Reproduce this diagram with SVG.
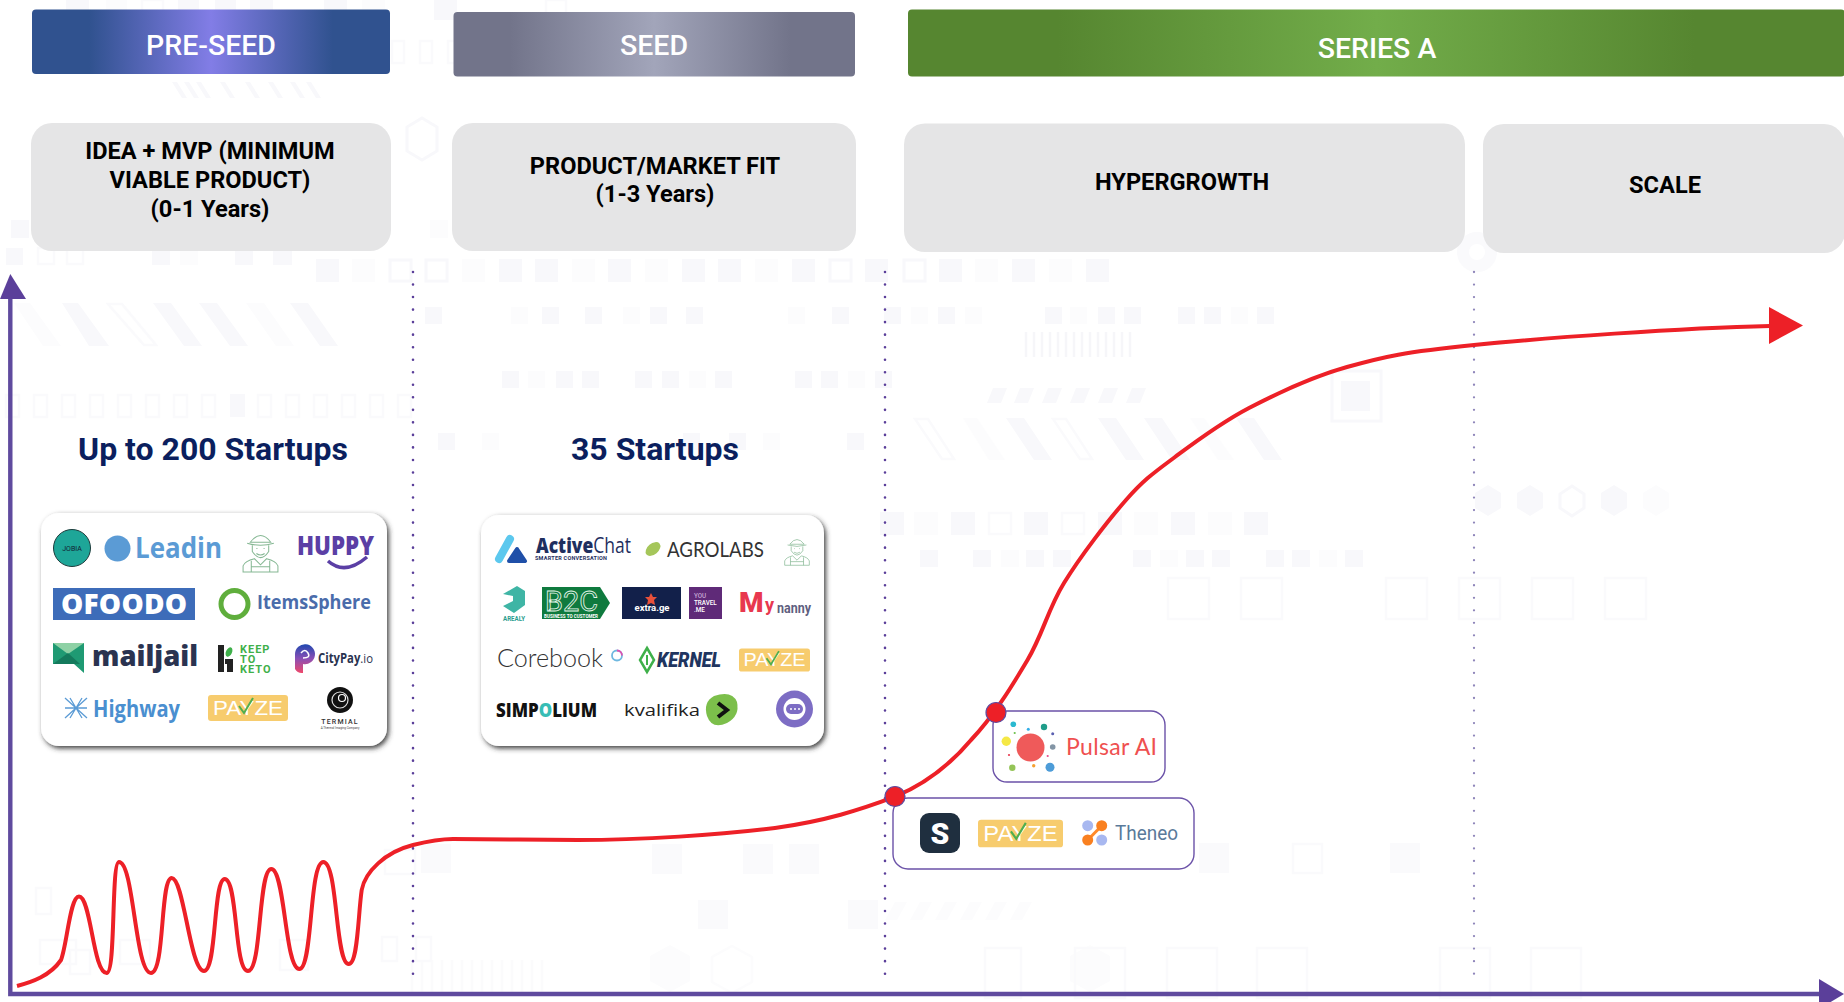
<svg xmlns="http://www.w3.org/2000/svg" width="1844" height="1002" viewBox="0 0 1844 1002">
<style>
text{font-family:Roboto,"Liberation Sans",sans-serif}
.b{fill:#f8f8fb}.l{fill:#fcfcfd}.f{fill:#fafafc}.o{fill:none;stroke:#f8f8fb;stroke-width:3}.o2{fill:none;stroke:#fafafc;stroke-width:2.5}
.hd{fill:#fff;font-size:28.5px;font-weight:500;text-anchor:middle}
.st{fill:#e5e5e6}
.stt{fill:#000;font-size:23.6px;font-weight:700;text-anchor:middle}
.big{fill:#0b1f5e;font-size:32px;font-weight:700;text-anchor:middle}
.card{fill:#fff;filter:url(#sh)}
.box{fill:#fff;stroke:#6b52a8;stroke-width:1.4}
.dot{fill:none;stroke:#5b3f9a;stroke-width:2.6;stroke-linecap:round;stroke-dasharray:0 12.53}
.axis{stroke:#5f4a9e;stroke-width:4.4;fill:none}
.ah{fill:#5b3f9a}
.pt{fill:#ed2027;stroke:#5f4a9e;stroke-width:1.2}
.lg{font-family:"Open Sans","Liberation Sans",sans-serif;font-weight:700}
.lat{font-family:Lato,"Liberation Sans",sans-serif}
</style>
<defs>
<filter id="sh" x="-5%" y="-5%" width="110%" height="112%"><feDropShadow dx="2" dy="2.5" stdDeviation="2.5" flood-color="#333" flood-opacity=".9"/></filter>
<linearGradient id="gp"><stop offset="0" stop-color="#30528f"/><stop offset=".16" stop-color="#30528f"/><stop offset=".5" stop-color="#827de6"/><stop offset=".84" stop-color="#30528f"/><stop offset="1" stop-color="#30528f"/></linearGradient>
<linearGradient id="gs"><stop offset="0" stop-color="#72748a"/><stop offset=".14" stop-color="#72748a"/><stop offset=".5" stop-color="#a2a5ba"/><stop offset=".84" stop-color="#72748a"/><stop offset="1" stop-color="#72748a"/></linearGradient>
<linearGradient id="gg"><stop offset="0" stop-color="#568630"/><stop offset=".16" stop-color="#568630"/><stop offset=".5" stop-color="#72ad4a"/><stop offset=".84" stop-color="#568630"/><stop offset="1" stop-color="#568630"/></linearGradient>
<linearGradient id="gc" x1="0" y1="0" x2="0" y2="1"><stop offset="0" stop-color="#1f48b0"/><stop offset=".5" stop-color="#8a4fb5"/><stop offset="1" stop-color="#f0486a"/></linearGradient>
<symbol id="payze" viewBox="0 0 80 26">
<rect width="80" height="26" rx="3" fill="#f7cc6e"/>
<text x="40" y="20" font-size="21" fill="#fff" text-anchor="middle" textLength="70" lengthAdjust="spacingAndGlyphs" style="font-family:'Liberation Sans',sans-serif">PAYZE</text>
<path d="M31,11 L36,18 L45,3" fill="none" stroke="#4fae4f" stroke-width="2"/>
</symbol>
<symbol id="farmer" viewBox="0 0 40 40">
<g fill="none" stroke="#86b894" stroke-width="1">
<path d="M10,10 Q20,-3 30,10 Z"/><path d="M7,11 Q20,15 33,11"/><path d="M12,13 V19 Q20,31 28,19 V13"/><path d="M16,21 Q20,24 24,21"/><path d="M16,16h1M23,16h1"/>
<path d="M3,39 V33 Q5,28 14,26 L20,32 L26,26 Q35,28 37,33 V39 Z"/><path d="M11,28 V39 M29,28 V39 M11,34 H29"/>
</g>
</symbol>
</defs>
<rect width="1844" height="1002" fill="#fff"/>
<g id="background">
<rect class="b" x="66" y="0" width="23" height="20"/><rect class="l" x="106" y="0" width="21" height="20"/><rect class="o2" x="142" y="0" width="21" height="19"/><rect class="b" x="178" y="0" width="21" height="20"/><rect class="b" x="215" y="0" width="21" height="20"/><rect class="b" x="250" y="0" width="23" height="20"/><rect class="b" x="324" y="0" width="23" height="20"/><rect class="l" x="362" y="0" width="23" height="20"/><rect class="b" x="434" y="0" width="23" height="20"/><rect class="o2" x="546" y="0" width="20" height="19"/>
<rect class="o2" x="392" y="41" width="12" height="22"/><rect class="o2" x="420" y="41" width="12" height="22"/><rect class="o2" x="448" y="41" width="12" height="22"/>
<path class="b" d="M172,82h5l10,16h-5zM184,82h5l10,16h-5zM196,82h5l10,16h-5zM220,82h5l10,16h-5zM245,82h5l10,16h-5zM268,82h5l10,16h-5zM290,82h5l10,16h-5zM306,82h5l10,16h-5z"/>
<path class="o" d="M422,118l15,9v24l-15,9l-15,-9v-24z"/>
<rect class="b" x="11" y="220" width="18" height="18"/><rect class="l" x="430" y="220" width="18" height="18"/>
<rect class="b" x="6" y="248" width="17" height="17"/><rect class="o2" x="38" y="248" width="16" height="16"/><rect class="o2" x="67" y="248" width="16" height="16"/><rect class="b" x="152" y="248" width="18" height="17"/><rect class="l" x="180" y="248" width="18" height="17"/><rect class="b" x="235" y="248" width="18" height="17"/><rect class="b" x="273" y="248" width="19" height="17"/>
<rect class="b" x="316" y="259" width="23" height="23"/><rect class="l" x="352" y="259" width="23" height="23"/><rect class="o" x="390" y="260" width="21" height="21"/><rect class="o" x="426" y="260" width="21" height="21"/><rect class="l" x="462" y="259" width="23" height="23"/><rect class="b" x="499" y="259" width="23" height="23"/><rect class="b" x="535" y="259" width="23" height="23"/><rect class="l" x="572" y="259" width="23" height="23"/><rect class="b" x="608" y="259" width="23" height="23"/><rect class="l" x="645" y="259" width="23" height="23"/><rect class="b" x="682" y="259" width="23" height="23"/><rect class="b" x="718" y="259" width="23" height="23"/><rect class="l" x="755" y="259" width="23" height="23"/><rect class="b" x="792" y="259" width="23" height="23"/><rect class="o" x="830" y="260" width="21" height="21"/><rect class="b" x="865" y="259" width="23" height="23"/><rect class="o" x="904" y="260" width="21" height="21"/><rect class="b" x="939" y="259" width="23" height="23"/><rect class="l" x="975" y="259" width="23" height="23"/><rect class="b" x="1012" y="259" width="23" height="23"/><rect class="l" x="1049" y="259" width="23" height="23"/><rect class="b" x="1086" y="259" width="23" height="23"/>
<g class="b"><rect x="425" y="307" width="17" height="17"/><rect x="542" y="307" width="17" height="17"/><rect x="585" y="307" width="17" height="17"/><rect x="650" y="307" width="17" height="17"/><rect x="686" y="307" width="17" height="17"/><rect x="832" y="307" width="17" height="17"/><rect x="884" y="307" width="17" height="17"/><rect x="938" y="307" width="17" height="17"/><rect x="1045" y="307" width="17" height="17"/><rect x="1098" y="307" width="17" height="17"/><rect x="1124" y="307" width="17" height="17"/><rect x="1178" y="307" width="17" height="17"/><rect x="1204" y="307" width="17" height="17"/><rect x="1257" y="307" width="17" height="17"/></g>
<g class="l"><rect x="511" y="307" width="17" height="17"/><rect x="623" y="307" width="17" height="17"/><rect x="788" y="307" width="17" height="17"/><rect x="911" y="307" width="17" height="17"/><rect x="965" y="307" width="17" height="17"/><rect x="1070" y="307" width="17" height="17"/><rect x="1231" y="307" width="17" height="17"/></g>
<g class="b"><rect x="502" y="371" width="17" height="17"/><rect x="556" y="371" width="17" height="17"/><rect x="582" y="371" width="17" height="17"/><rect x="635" y="371" width="17" height="17"/><rect x="662" y="371" width="17" height="17"/><rect x="715" y="371" width="17" height="17"/><rect x="795" y="371" width="17" height="17"/><rect x="821" y="371" width="17" height="17"/><rect x="875" y="371" width="17" height="17"/></g>
<g class="l"><rect x="528" y="371" width="17" height="17"/><rect x="689" y="371" width="17" height="17"/><rect x="848" y="371" width="17" height="17"/></g>
<path class="b" d="M62,303h16l31,43h-20zM153,303h18l31,43h-18zM199,303h18l31,43h-18zM290,303h18l30,43h-18z"/>
<path class="l" d="M14,303h16l31,43h-18zM246,303h18l30,43h-18z"/>
<path class="o2" d="M108,304h14l34,41h-12z"/>
<g class="o2"><rect x="6" y="395" width="13" height="22"/><rect x="34" y="395" width="13" height="22"/><rect x="62" y="395" width="13" height="22"/><rect x="90" y="395" width="13" height="22"/><rect x="118" y="395" width="13" height="22"/><rect x="146" y="395" width="13" height="22"/><rect x="174" y="395" width="13" height="22"/><rect x="202" y="395" width="13" height="22"/><rect x="258" y="395" width="13" height="22"/><rect x="286" y="395" width="13" height="22"/><rect x="314" y="395" width="13" height="22"/><rect x="342" y="395" width="13" height="22"/><rect x="370" y="395" width="13" height="22"/><rect x="398" y="395" width="13" height="22"/></g>
<rect class="b" x="230" y="394" width="15" height="23"/>
<g class="b"><rect x="438" y="433" width="17" height="17"/><rect x="683" y="433" width="17" height="17"/><rect x="729" y="433" width="17" height="17"/><rect x="847" y="433" width="17" height="17"/></g>
<rect class="l" x="482" y="433" width="17" height="17"/><rect class="l" x="763" y="433" width="17" height="17"/>
<path d="M1026,332V357M1034,332V357M1042,332V357M1050,332V357M1058,332V357M1066,332V357M1074,332V357M1082,332V357M1090,332V357M1098,332V357M1106,332V357M1114,332V357M1122,332V357M1130,332V357" stroke="#f6f6f9" stroke-width="2.5" fill="none"/>
<path class="b" d="M993,388h14l-6,15h-14zM1020,388h14l-6,15h-14zM1048,388h14l-6,15h-14zM1076,388h14l-6,15h-14zM1104,388h14l-6,15h-14zM1132,388h14l-6,15h-14z"/>
<path class="o2" d="M915,419h13l26,40h-12zM1053,419h13l26,40h-12z"/>
<path class="l" d="M963,418h14l28,42h-16z"/>
<path class="b" d="M1006,418h18l28,42h-18zM1098,418h18l28,42h-18zM1144,418h18l28,42h-18zM1236,418h18l28,42h-18z"/>
<path class="l" d="M1190,418h14l30,42h-16z"/>
<rect class="o" x="1332" y="371" width="49" height="50"/><rect class="b" x="1341" y="381" width="29" height="30"/>
<g class="b"><rect x="880" y="512" width="24" height="23"/><rect x="951" y="512" width="24" height="23"/><rect x="1024" y="512" width="24" height="23"/><rect x="1098" y="512" width="24" height="23"/><rect x="1171" y="512" width="24" height="23"/><rect x="1244" y="512" width="24" height="23"/></g>
<g class="l"><rect x="914" y="512" width="24" height="23"/><rect x="1134" y="512" width="24" height="23"/><rect x="1208" y="512" width="24" height="23"/></g>
<rect class="o2" x="989" y="513" width="22" height="21"/><rect class="o2" x="1062" y="513" width="22" height="21"/>
<g class="b"><rect x="920" y="550" width="18" height="17"/><rect x="973" y="550" width="18" height="17"/><rect x="1026" y="550" width="18" height="17"/><rect x="1053" y="550" width="18" height="17"/><rect x="1133" y="550" width="18" height="17"/><rect x="1186" y="550" width="18" height="17"/><rect x="1212" y="550" width="18" height="17"/><rect x="1266" y="550" width="18" height="17"/><rect x="1292" y="550" width="18" height="17"/><rect x="1345" y="550" width="18" height="17"/></g>
<rect class="l" x="1001" y="550" width="18" height="17"/><rect class="l" x="1160" y="550" width="18" height="17"/><rect class="l" x="1319" y="550" width="18" height="17"/>
<g class="o2"><rect x="1168" y="578" width="41" height="41"/><rect x="1241" y="578" width="41" height="41"/><rect x="1386" y="578" width="41" height="41"/><rect x="1459" y="578" width="41" height="41"/><rect x="1532" y="578" width="41" height="41"/><rect x="1605" y="578" width="41" height="41"/></g>
<path class="b" d="M1488,485l13,8v15l-13,8l-13,-8v-15zM1530,485l13,8v15l-13,8l-13,-8v-15zM1614,485l13,8v15l-13,8l-13,-8v-15z"/>
<path class="o" d="M1572,486l12,8v14l-12,8l-12,-8v-14z"/>
<path class="l" d="M1656,485l13,8v15l-13,8l-13,-8v-15z"/>
<circle cx="1477" cy="252" r="14" fill="none" stroke="#fafafc" stroke-width="12"/>
<g class="f"><rect x="652" y="844" width="30" height="30"/><rect x="743" y="844" width="30" height="30"/><rect x="789" y="844" width="30" height="30"/><rect x="698" y="900" width="30" height="29"/><rect x="848" y="900" width="30" height="29"/><rect x="1199" y="843" width="30" height="30"/><rect x="1390" y="843" width="30" height="30"/><rect x="421" y="844" width="30" height="29"/></g>
<rect class="o2" x="1293" y="844" width="29" height="29"/>
<path class="l" d="M895,902h12l-10,18h-12zM920,902h12l-10,18h-12zM945,902h12l-10,18h-12zM970,902h12l-10,18h-12zM995,902h12l-10,18h-12zM1020,902h12l-10,18h-12z"/>
<path d="M412,960V992M422,960V992M432,960V992M442,960V992M452,960V992M462,960V992M472,960V992M482,960V992M492,960V992M502,960V992M512,960V992M522,960V992M532,960V992M542,960V992" stroke="#fbfbfc" stroke-width="2.5" fill="none"/>
<path class="l" d="M670,945l20,11v25l-20,11l-20,-11v-25zM1090,945l20,11v25l-20,11l-20,-11v-25z"/>
<path d="M732,946l20,11v25l-20,11l-20,-11v-25z" fill="none" stroke="#fcfcfd" stroke-width="2.500"/>
<g class="o2"><rect x="985" y="948" width="36" height="50"/><rect x="1075" y="948" width="50" height="50"/><rect x="1167" y="948" width="50" height="50"/><rect x="1257" y="948" width="50" height="50"/><rect x="1440" y="948" width="50" height="50"/><rect x="1531" y="948" width="50" height="50"/></g>
<g class="o2"><rect x="382" y="937" width="15" height="24"/><rect x="416" y="937" width="15" height="24"/><rect x="36" y="888" width="15" height="26"/><rect x="40" y="940" width="36" height="24"/><rect x="120" y="940" width="30" height="24"/><rect x="70" y="950" width="20" height="24"/><rect x="280" y="940" width="28" height="30"/><rect x="385" y="850" width="30" height="24"/></g>
</g>
<g id="stage-pre-seed"><rect x="32" y="9.5" width="358" height="64.5" rx="4" fill="url(#gp)"/><text class="hd" x="211" y="55">PRE-SEED</text></g>
<g id="stage-seed"><rect x="453.5" y="12" width="401.5" height="64.5" rx="4" fill="url(#gs)"/><text class="hd" x="654" y="55">SEED</text></g>
<g id="stage-series-a"><rect x="908" y="9.5" width="937" height="67" rx="4" fill="url(#gg)"/><text class="hd" x="1377" y="57.500">SERIES A</text></g>
<g id="phase-idea"><rect class="st" x="31" y="123" width="360" height="128" rx="21"/><text class="stt" x="210" y="159">IDEA + MVP (MINIMUM</text><text class="stt" x="210" y="188">VIABLE PRODUCT)</text><text class="stt" x="210" y="217">(0-1 Years)</text></g>
<g id="phase-fit"><rect class="st" x="452" y="123" width="404" height="128" rx="21"/><text class="stt" x="655" y="174">PRODUCT/MARKET FIT</text><text class="stt" x="655" y="202">(1-3 Years)</text></g>
<g id="phase-hypergrowth"><rect class="st" x="904" y="123.5" width="561" height="128.5" rx="21"/><text class="stt" x="1182" y="190">HYPERGROWTH</text></g>
<g id="phase-scale"><rect class="st" x="1483" y="124" width="362" height="129" rx="21"/><text class="stt" x="1665" y="193">SCALE</text></g>
<g id="count-preseed"><text class="big" x="213" y="460">Up to 200 Startups</text></g>
<g id="count-seed"><text class="big" x="655" y="459.500">35 Startups</text></g>
<g id="card-preseed">
<rect class="card" x="41" y="513" width="346" height="233" rx="18"/>
<circle cx="72" cy="548" r="18.500" fill="#1ea698" stroke="#1c3b3b" stroke-width="1"/><text x="72" y="551" font-size="7" fill="#123" text-anchor="middle">JOBIA</text>
<circle cx="117.500" cy="548.500" r="13" fill="#5b9bd5"/><text class="lg" x="135" y="558" font-size="28" fill="#5b9bd5" textLength="87" lengthAdjust="spacingAndGlyphs">Leadin</text>
<use href="#farmer" x="240" y="532" width="41" height="41"/>
<text class="lg" x="297" y="555" font-size="27" style="font-weight:800" fill="#5b3fa5" textLength="77" lengthAdjust="spacingAndGlyphs">HUPPY</text><path d="M328,561 Q345,576 367,557" fill="none" stroke="#5b3fa5" stroke-width="3.500"/>
<rect x="53" y="588" width="142" height="32" fill="#3d6cb9"/><text class="lg" x="124" y="614" font-size="28" style="font-weight:800" fill="#fff" text-anchor="middle" textLength="126" lengthAdjust="spacing">OFOODO</text>
<circle cx="234.500" cy="604" r="13.500" fill="none" stroke="#5fae3c" stroke-width="5"/><text class="lg" x="257" y="609" font-size="19" fill="#4a6cab" textLength="114" lengthAdjust="spacingAndGlyphs">ItemsSphere</text>
<path d="M53,643H84V673L74,664H53Z" fill="#1f9a73"/><path d="M53,643H84L68,654Z" fill="#8ed1a5"/><path d="M53,664L68,653L80,664Z" fill="#147a5c"/>
<text class="lg" x="92" y="666" font-size="29" style="font-weight:800" fill="#2a3350" textLength="106" lengthAdjust="spacingAndGlyphs">mailjail</text>
<path d="M218,645h6v27h-6zM225,659h8v13h-6v-8h-2z" fill="#222"/><ellipse cx="229" cy="652" rx="3" ry="5" fill="#3fb04a" transform="rotate(25 229 652)"/>
<g font-weight="700" font-size="11" fill="#3fb04a" letter-spacing="1"><text x="240" y="652.500">KEEP</text><text x="240" y="662.500">TO</text><text x="240" y="672.500">KETO</text></g>
<path d="M295,654a10,10 0 1 1 8,10v9a8,8 0 0 1 -8,-4z" fill="url(#gc)"/><path d="M301,653q4,-5 7,0t-5,5" fill="none" stroke="#fff" stroke-width="1.500"/>
<text x="318" y="663" font-size="13.500" fill="#2a3350" textLength="55" lengthAdjust="spacingAndGlyphs" style="font-family:'Open Sans',sans-serif"><tspan font-weight="700">CityPay</tspan>.io</text>
<path d="M65,698L87,718M87,698L65,718M70,698L82,718M82,698L70,718M65,708H87" fill="none" stroke="#5b9bd5" stroke-width="1.300"/>
<text class="lg" x="93" y="717" font-size="24" fill="#4a8fd0" textLength="87" lengthAdjust="spacingAndGlyphs">Highway</text>
<use href="#payze" x="208" y="695" width="80" height="26"/>
<circle cx="340" cy="700" r="13" fill="#111"/><circle cx="340" cy="700" r="8" fill="none" stroke="#ddd" stroke-width="1.200"/><circle cx="342" cy="698" r="3.500" fill="none" stroke="#fff" stroke-width="1.200"/>
<text x="340" y="723.500" font-size="7" font-weight="500" fill="#333" text-anchor="middle" letter-spacing="1.200">TERMIAL</text><text x="340" y="729" font-size="3" fill="#444" text-anchor="middle">A Thermal Imaging Company</text>
</g>
<g id="card-seed">
<rect class="card" x="481" y="515" width="343" height="231" rx="18"/>
<path d="M510,539L499,559" stroke="#5cc8ee" stroke-width="8" stroke-linecap="round"/><path d="M509,561L517,549L525,561Z" fill="#1f4fa8" stroke="#1f4fa8" stroke-width="4" stroke-linejoin="round"/>
<text class="lg" x="536" y="552.500" font-size="21" fill="#1f2f5f" textLength="95" lengthAdjust="spacingAndGlyphs"><tspan style="font-weight:800">Active</tspan><tspan style="font-weight:500">Chat</tspan></text>
<text x="535" y="560" font-weight="700" font-size="5.500" fill="#1f2f5f" textLength="72" lengthAdjust="spacing">SMARTER CONVERSATION</text>
<ellipse cx="653" cy="549" rx="8.500" ry="5.500" fill="#a5c65a" transform="rotate(-40 653 549)"/>
<text class="lat" x="667" y="557" font-size="21" fill="#333" textLength="97" lengthAdjust="spacingAndGlyphs">AGROLABS</text>
<use href="#farmer" x="782" y="537" width="30" height="29"/>
<path d="M503,594L517,586L525,591V605L514,613L503,606L513,601V596Z" fill="#3fb5a5"/><text x="503" y="620.500" font-weight="700" font-size="8" fill="#2a9d8f" textLength="22" lengthAdjust="spacingAndGlyphs">AREALY</text>
<path d="M542,587H600L610,603L600,619H542Z" fill="#0f7a3e"/>
<text x="545" y="611" font-size="28" fill="none" stroke="#e5f5ea" stroke-width=".8" textLength="53" lengthAdjust="spacingAndGlyphs">B2C</text>
<text x="544" y="617.500" font-weight="700" font-size="4.500" fill="#fff" textLength="54" lengthAdjust="spacing">BUSINESS TO CUSTOMER</text>
<rect x="622" y="587" width="59" height="32" fill="#12204a"/><path d="M651,593l2,4h4l-3,3l1,5l-4,-2l-4,2l1,-5l-3,-3h4z" fill="#e8503a"/><text x="652" y="611" font-weight="700" font-size="9.500" fill="#fff" text-anchor="middle">extra.ge</text>
<rect x="689" y="587" width="33" height="32" fill="#5f2a78"/><g font-size="6.300" font-weight="500"><text x="694" y="598" fill="#c5a5d5">YOU</text><text x="694" y="605" fill="#fff">TRAVEL</text><text x="694" y="612" fill="#fff">.ME</text></g>
<text x="739" y="612" font-size="28" font-weight="900" fill="#e8384f">M</text><text x="765" y="611" font-size="18" font-weight="700" fill="#e8384f">y</text><text x="777" y="613" font-weight="700" font-size="15" fill="#5f5f80" textLength="34" lengthAdjust="spacingAndGlyphs">nanny</text>
<text class="lat" x="497" y="667" font-size="26" fill="#333" font-weight="300" textLength="106" lengthAdjust="spacingAndGlyphs">Corebook</text>
<circle cx="617" cy="655.500" r="5" fill="none" stroke="#6fb8e0" stroke-width="1.800"/><path d="M617,650.500a5,5 0 0 1 5,5" fill="none" stroke="#e050b0" stroke-width="1.800"/>
<path d="M647,648L654,660L647,672L640,660Z" fill="none" stroke="#3fb04a" stroke-width="2.500"/><path d="M647,655V665" stroke="#3fb04a" stroke-width="2"/>
<text x="657" y="667" font-size="21" font-weight="900" font-style="italic" fill="#1f3560" textLength="64" lengthAdjust="spacingAndGlyphs">KERNEL</text>
<use href="#payze" x="739" y="648" width="71" height="24"/>
<text class="lg" x="496" y="717" font-size="20" style="font-weight:800" fill="#111" textLength="101" lengthAdjust="spacingAndGlyphs">SIMP<tspan fill="#37bdb5">O</tspan>LIUM</text>
<text class="lg" x="624" y="716" font-size="15.500" style="font-weight:500" fill="#222" textLength="76" lengthAdjust="spacingAndGlyphs">kvalifika</text>
<path d="M714,696Q732,690 737,702Q740,716 727,723Q712,730 707,716Q703,702 714,696Z" fill="#7cbf4b"/><path d="M718,703L727,710L718,717" fill="none" stroke="#111" stroke-width="4"/>
<circle cx="794.500" cy="709" r="18.500" fill="#7d6dc4"/><circle cx="794.500" cy="709" r="11" fill="#fff"/><rect x="786" y="704" width="17" height="10" rx="5" fill="#7d6dc4"/><circle cx="791" cy="709" r="1" fill="#fff"/><circle cx="795" cy="709" r="1" fill="#fff"/><circle cx="799" cy="709" r="1" fill="#fff"/>
</g>
<g id="box-pulsar">
<rect class="box" x="993" y="711" width="172" height="71" rx="14"/>
<circle cx="1030.500" cy="747.500" r="14" fill="#ef5a5a"/>
<circle cx="1013.300" cy="724.300" r="2.800" fill="#2bb9d0"/><circle cx="1044" cy="727" r="3.200" fill="#1f9d8a"/><circle cx="1028.300" cy="729.300" r="1.500" fill="#33aee8"/><circle cx="1014.700" cy="733" r="1.100" fill="#6cc04a"/><circle cx="1052.700" cy="733.700" r="1.500" fill="#5a5fb0"/><circle cx="1006.300" cy="741.300" r="4.700" fill="#f5e845"/><circle cx="1052.700" cy="747" r="2.800" fill="#8395a5"/><circle cx="1009" cy="755" r="1.100" fill="#e8384f"/><circle cx="1047.700" cy="756" r="1.100" fill="#e84a8a"/><circle cx="1033.700" cy="765.700" r="1.700" fill="#f5a030"/><circle cx="1012.300" cy="767.700" r="3.200" fill="#94c457"/><circle cx="1050" cy="767.300" r="4.500" fill="#4d9cd8"/>
<text class="lat" x="1066" y="755" font-size="23" fill="#ef5050" textLength="91" lengthAdjust="spacing">Pulsar AI</text>
</g>
<g id="box-series-a">
<rect class="box" x="893" y="798" width="301" height="71" rx="15"/>
<rect x="920" y="813" width="40" height="40" rx="9" fill="#1f2f3f"/><text x="940" y="844" font-size="30" font-weight="900" fill="#fff" text-anchor="middle">S</text>
<use href="#payze" x="978" y="819" width="85" height="29"/>
<path d="M1087.700,840L1101.700,825.700" stroke="#ff8a2a" stroke-width="3"/><circle cx="1087.700" cy="825.700" r="5.500" fill="#a8b8f0"/><circle cx="1101.700" cy="840" r="5.500" fill="#a8b8f0"/><circle cx="1101.700" cy="825.700" r="5.500" fill="#f98020"/><circle cx="1087.700" cy="840" r="5.500" fill="#f98020"/>
<text x="1115" y="840" font-size="21" fill="#5a7a9a" textLength="63" lengthAdjust="spacingAndGlyphs">Theneo</text>
</g>
<g id="connectors">
<path class="dot" d="M413,272V976"/><path class="dot" d="M885,272V976"/><path class="dot" d="M1474,272V976" style="stroke:#8f86ba;stroke-width:2.300"/>
<path class="axis" d="M10.300,299V994H1822"/>
<polygon class="ah" points="0,299 10.300,274 26,299"/>
<polygon class="ah" points="1819,979 1844,994 1819,1009"/>
<path fill="none" stroke="#ed2027" stroke-width="4" d="M17,986C32,982 50,976 61,960C67,945 70,896.500 79,896.500C91,896.500 93,973 106.700,973C116,973 111,862 119,862C134,862 135,973 151,973C165,973 160,878 171.700,878C184,878 190,971 204,971C217,971 213,879 224.700,879C238,879 234,971 248,971C262,971 258,869 271.300,869C285,869 285,969 299.300,969C313,969 309,862 323.300,862C338,862 335,964 348.700,964C358,964 358,915 361.700,890C365,872 385,852 413,845C425,842 440,839 453,839C490,839 540,840 578,840C640,840 720,835 775,828C825,821 860,810 895,796.700C925,784 950,765 971,740C993,717.300 1012,686 1027.500,660C1043,634 1047.600,609.700 1064,583C1080.400,556.300 1107.500,521 1126,500C1144.500,479 1154.500,472.300 1175,457C1195.500,441.700 1220.300,423 1249,408C1277.700,393 1309.500,377.500 1347,367C1384.500,356.500 1404,352 1474,345C1544,338 1680,328 1770,326"/>
<polygon fill="#ed2027" points="1769,307 1803,325.500 1769,344"/>
<circle class="pt" cx="895" cy="796.500" r="10"/>
<circle class="pt" cx="996" cy="712.500" r="10"/>
</g>
</svg>
